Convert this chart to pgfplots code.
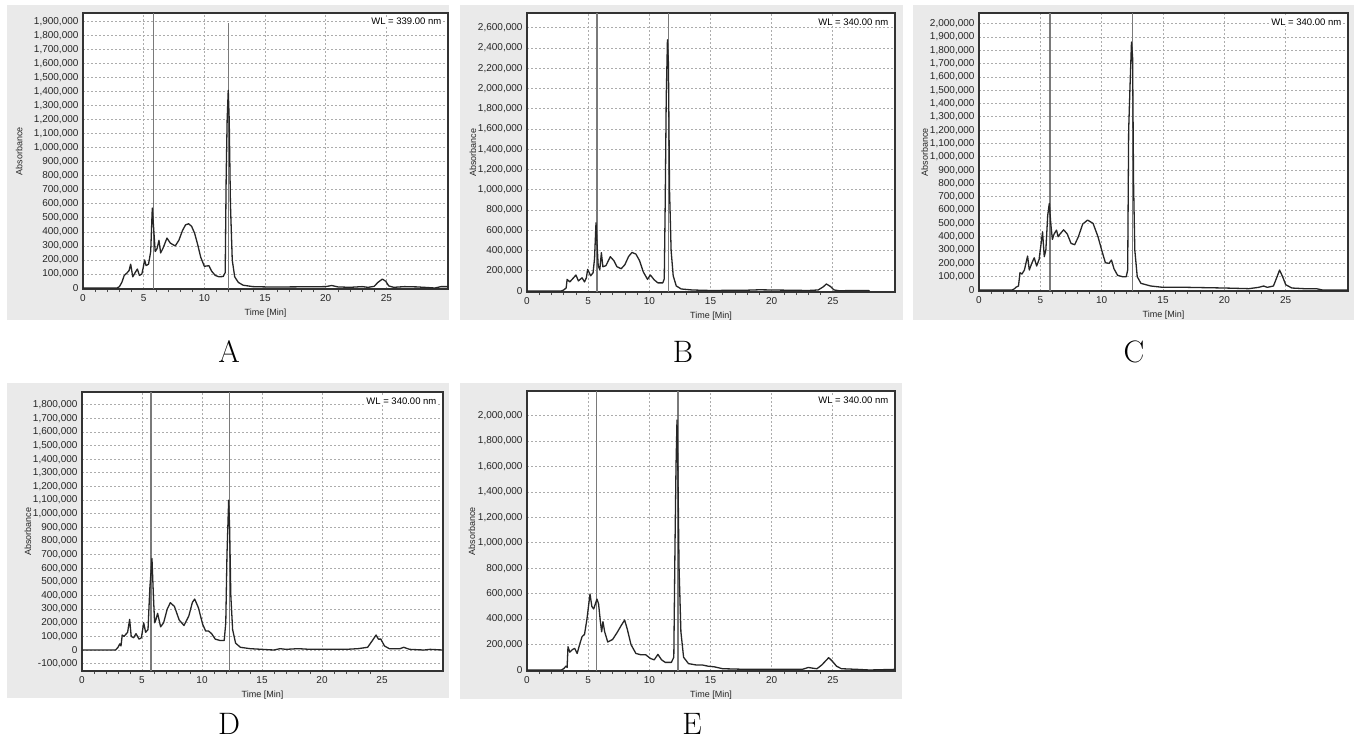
\documentclass[border=0pt]{standalone}
\usepackage{fontspec}
\usepackage{pgfplots}
\pgfplotsset{compat=1.18}
\newfontfamily\axfont{Liberation Sans}
\definecolor{panelbg}{HTML}{EAEAEA}
\definecolor{marker}{HTML}{7A7A7A}

\pgfplotsset{
  chrom/.style={
    scale only axis, anchor=north west,
    axis background/.style={fill=white},
    xmin=0, xmax=30.08,
    xtick={0,5,10,15,20,25}, minor x tick num=4,
    xtick pos=bottom, ytick pos=left,
    tick align=outside, major tick length=0pt, minor tick length=3pt,
    minor tick style={black!70, line width=0.6pt},
    scaled y ticks=false,
    /pgf/number format/assume math mode=true,
    yticklabel style={xshift=-1pt, /pgf/number format/fixed, /pgf/number format/precision=0, /pgf/number format/1000 sep={,}},
    tick label style={font=\axfont\fontsize{10}{11}\selectfont, black!85},
    xticklabel style={yshift=-2pt},
    grid=major,
    major grid style={gray!65, dash pattern=on 2pt off 2pt, line width=0.8pt},
    axis line style={black!80, line width=1.3pt},
    xlabel={Time [Min]}, ylabel={Absorbance},
    label style={font=\axfont\fontsize{9}{10}\selectfont, black!85},
    xlabel style={at={(axis description cs:0.5,-0.086)}, anchor=center},
    ylabel style={anchor=center},
  },
  trace/.style={black!85, line width=1.3pt, line join=round},
  vline/.style={marker, line width=1.3pt},
}

\begin{document}
\begin{tikzpicture}
\path[use as bounding box] (0,0) rectangle (1358pt,-740pt);
% panel backgrounds
\fill[panelbg] (7pt,-5pt) rectangle (449pt,-320pt);
\fill[panelbg] (460pt,-5pt) rectangle (903pt,-320pt);
\fill[panelbg] (913pt,-5pt) rectangle (1354pt,-320pt);
\fill[panelbg] (7pt,-383pt) rectangle (449pt,-698pt);
\fill[panelbg] (460pt,-383pt) rectangle (902pt,-699pt);

% A
\begin{axis}[chrom, at={(83pt,-13pt)}, width=365pt, height=276pt,
  ymin=-7000, ymax=1960000, ytick distance=100000,
  ylabel style={at={(axis description cs:-0.175,0.5)}}]
\addplot[vline] coordinates {(5.82,-7000) (5.82,1960000)};
\addplot[vline] coordinates {(11.98,-7000) (11.98,1890000)};
\addplot[trace] coordinates {
(0,0)(2.8,0)(3.0,10000)(3.2,40000)(3.4,90000)(3.6,105000)(3.8,125000)(3.93,170000)(4.1,80000)(4.3,110000)
(4.48,135000)(4.65,90000)(4.85,100000)(4.95,140000)(5.08,200000)(5.2,160000)(5.4,170000)(5.58,260000)(5.71,570000)
(5.82,430000)(5.95,260000)(6.1,280000)(6.26,340000)(6.4,250000)(6.6,285000)(6.92,356000)(7.2,320000)(7.6,300000)
(7.9,340000)(8.2,410000)(8.45,450000)(8.7,458000)(8.95,440000)(9.2,390000)(9.45,310000)(9.7,220000)(10.0,155000)
(10.38,159000)(10.6,120000)(10.9,90000)(11.2,80000)(11.55,82000)(11.72,110000)(11.8,800000)(11.88,1200000)
(11.97,1410000)(12.05,1200000)(12.15,600000)(12.3,200000)(12.5,80000)(12.8,40000)(13.2,20000)(14,10000)(15,8000)
(17,8000)(20,10000)(20.5,18000)(21,8000)(22,5000)(23,10000)(23.5,5000)(24,12000)(24.3,40000)(24.67,64000)
(24.95,48000)(25.2,15000)(25.6,5000)(26.5,10000)(27.5,8000)(28.5,3000)(29,0)(29.5,10000)(30.08,10000)};
\node[font=\axfont\fontsize{9.5}{10}\selectfont, anchor=north east, fill=white, inner sep=1pt] at (rel axis cs:0.985,0.985) {WL = 339.00 nm};
\end{axis}

% B
\begin{axis}[chrom, at={(527pt,-13pt)}, width=368pt, height=279pt,
  ymin=-10000, ymax=2747000, ytick distance=200000,
  ylabel style={at={(axis description cs:-0.147,0.5)}}]
\addplot[vline] coordinates {(5.72,-10000) (5.72,2747000)};
\addplot[vline] coordinates {(11.58,-10000) (11.58,2747000)};
\addplot[trace] coordinates {
(0,0)(2.8,0)(3.0,10000)(3.2,30000)(3.28,115000)(3.5,90000)(3.8,130000)(4.0,158000)(4.2,100000)(4.5,130000)
(4.7,90000)(4.85,130000)(4.96,214000)(5.2,150000)(5.4,180000)(5.52,320000)(5.64,674000)(5.72,480000)(5.82,250000)
(5.95,210000)(6.08,378000)(6.2,240000)(6.45,250000)(6.81,339000)(7.1,300000)(7.35,240000)(7.7,220000)(8.0,260000)
(8.3,340000)(8.58,381000)(8.9,365000)(9.2,300000)(9.5,190000)(9.85,115000)(10.08,158000)(10.4,110000)(10.7,80000)
(11.1,80000)(11.22,120000)(11.3,900000)(11.38,1900000)(11.48,2483000)(11.56,2250000)(11.65,1000000)(11.78,400000)
(11.95,150000)(12.2,50000)(12.6,20000)(13.5,10000)(15,5000)(18,8000)(19,12000)(20,10000)(23,5000)(23.8,10000)
(24.2,40000)(24.47,69000)(24.8,45000)(25.1,10000)(25.5,3000)(27.9,5000)(28,0)};
\node[font=\axfont\fontsize{9.5}{10}\selectfont, anchor=north east, fill=white, inner sep=1pt] at (rel axis cs:0.985,0.985) {WL = 340.00 nm};
\end{axis}

% C
\begin{axis}[chrom, at={(979pt,-13pt)}, width=369pt, height=278pt,
  ymin=-7500, ymax=2080000, ytick distance=100000,
  ylabel style={at={(axis description cs:-0.147,0.5)}}]
\addplot[vline] coordinates {(5.78,-7500) (5.78,2080000)};
\addplot[vline] coordinates {(12.49,-7500) (12.49,2080000)};
\addplot[trace] coordinates {
(0,0)(2.7,0)(2.9,10000)(3.0,20000)(3.22,30000)(3.34,130000)(3.5,120000)(3.7,150000)(3.96,255000)(4.1,150000)
(4.3,200000)(4.5,242000)(4.7,180000)(4.9,230000)(5.18,437000)(5.32,250000)(5.45,300000)(5.6,560000)(5.73,650000)
(5.85,500000)(5.98,380000)(6.12,420000)(6.32,450000)(6.45,400000)(6.6,420000)(6.9,452000)(7.2,420000)(7.5,350000)
(7.8,340000)(8.1,400000)(8.45,495000)(8.85,525000)(9.3,500000)(9.7,400000)(10.0,300000)(10.3,205000)(10.6,200000)
(10.8,225000)(11.0,160000)(11.3,110000)(11.7,100000)(12.0,100000)(12.12,150000)(12.2,1200000)(12.3,1500000)
(12.43,1862000)(12.52,1750000)(12.6,800000)(12.7,300000)(12.9,100000)(13.2,50000)(14,30000)(15,20000)(17,20000)
(20,15000)(22,10000)(22.8,20000)(23.2,30000)(23.5,20000)(24,30000)(24.3,100000)(24.5,150000)(24.75,100000)
(25.0,40000)(25.5,15000)(26.5,10000)(27.5,10000)(28,0)(30.08,0)};
\node[font=\axfont\fontsize{9.5}{10}\selectfont, anchor=north east, fill=white, inner sep=1pt] at (rel axis cs:0.985,0.985) {WL = 340.00 nm};
\end{axis}

% D
\begin{axis}[chrom, at={(82pt,-392pt)}, width=361pt, height=279pt,
  ymin=-154000, ymax=1893000, ytick distance=100000,
  ylabel style={at={(axis description cs:-0.15,0.5)}}]
\addplot[vline] coordinates {(5.75,-154000) (5.75,1893000)};
\addplot[vline] coordinates {(12.28,-154000) (12.28,1893000)};
\addplot[trace] coordinates {
(0,0)(2.8,0)(3.0,20000)(3.15,45000)(3.25,30000)(3.35,110000)(3.5,100000)(3.8,130000)(3.97,225000)(4.1,100000)
(4.3,90000)(4.5,120000)(4.75,80000)(4.95,90000)(5.14,200000)(5.3,130000)(5.5,150000)(5.65,450000)(5.83,672000)
(5.95,400000)(6.05,200000)(6.15,220000)(6.3,269000)(6.55,170000)(6.8,200000)(7.1,300000)(7.36,347000)(7.7,320000)
(8.1,220000)(8.5,180000)(8.9,250000)(9.2,350000)(9.39,374000)(9.7,310000)(10.05,190000)(10.3,140000)(10.55,139000)
(10.8,120000)(11.1,80000)(11.5,70000)(11.85,70000)(11.98,200000)(12.08,700000)(12.22,1099000)(12.3,900000)
(12.4,400000)(12.55,150000)(12.8,50000)(13.2,20000)(14,10000)(15,5000)(16,0)(16.5,10000)(17,5000)(18,10000)
(19,5000)(20,5000)(22,5000)(23,10000)(23.8,20000)(24.2,70000)(24.5,110000)(24.7,80000)(24.9,80000)(25.2,30000)
(25.6,10000)(26.5,10000)(26.8,20000)(27.3,5000)(28.5,0)(29,5000)(30.08,0)};
\node[font=\axfont\fontsize{9.5}{10}\selectfont, anchor=north east, fill=white, inner sep=1pt] at (rel axis cs:0.985,0.985) {WL = 340.00 nm};
\end{axis}

% E
\begin{axis}[chrom, at={(527pt,-391pt)}, width=368pt, height=280pt,
  ymin=-8000, ymax=2194000, ytick distance=200000,
  ylabel style={at={(axis description cs:-0.15,0.5)}}]
\addplot[vline] coordinates {(5.67,-8000) (5.67,2194000)};
\addplot[vline] coordinates {(12.34,-8000) (12.34,2194000)};
\addplot[trace] coordinates {
(0,0)(2.8,0)(3.0,10000)(3.18,30000)(3.28,20000)(3.35,183000)(3.5,140000)(3.7,160000)(3.9,170000)(4.1,130000)
(4.3,200000)(4.5,262000)(4.7,280000)(4.9,400000)(5.15,598000)(5.3,500000)(5.45,480000)(5.72,558000)(5.85,520000)
(6.0,380000)(6.1,300000)(6.21,380000)(6.35,300000)(6.6,220000)(7.0,240000)(7.4,300000)(7.7,350000)(7.98,393000)
(8.2,320000)(8.5,200000)(8.9,130000)(9.3,120000)(9.7,120000)(10.1,90000)(10.4,80000)(10.7,123000)(11.0,80000)
(11.3,60000)(11.8,60000)(12.0,100000)(12.1,1000000)(12.18,1600000)(12.26,1966000)(12.33,1600000)(12.43,800000)
(12.58,300000)(12.8,100000)(13.2,50000)(13.8,40000)(14.3,40000)(14.8,30000)(15.3,25000)(16,10000)(18,5000)
(21,5000)(22.5,5000)(23.0,20000)(23.3,15000)(23.7,10000)(24.1,40000)(24.66,97000)(24.95,70000)(25.3,30000)
(25.7,10000)(27,5000)(28,0)(30.08,5000)};
\node[font=\axfont\fontsize{9.5}{10}\selectfont, anchor=north east, fill=white, inner sep=1pt] at (rel axis cs:0.985,0.985) {WL = 340.00 nm};
\end{axis}

% panel letters
\tikzset{letter/.style={font=\fontsize{31}{33}\selectfont, anchor=base, inner sep=0pt}}
\node[letter] at (229pt,-362pt) {A};
\node[letter] at (683pt,-362pt) {B};
\node[letter] at (1134pt,-362pt) {C};
\node[letter] at (229pt,-734pt) {D};
\node[letter] at (692pt,-734pt) {E};
\end{tikzpicture}
\end{document}
